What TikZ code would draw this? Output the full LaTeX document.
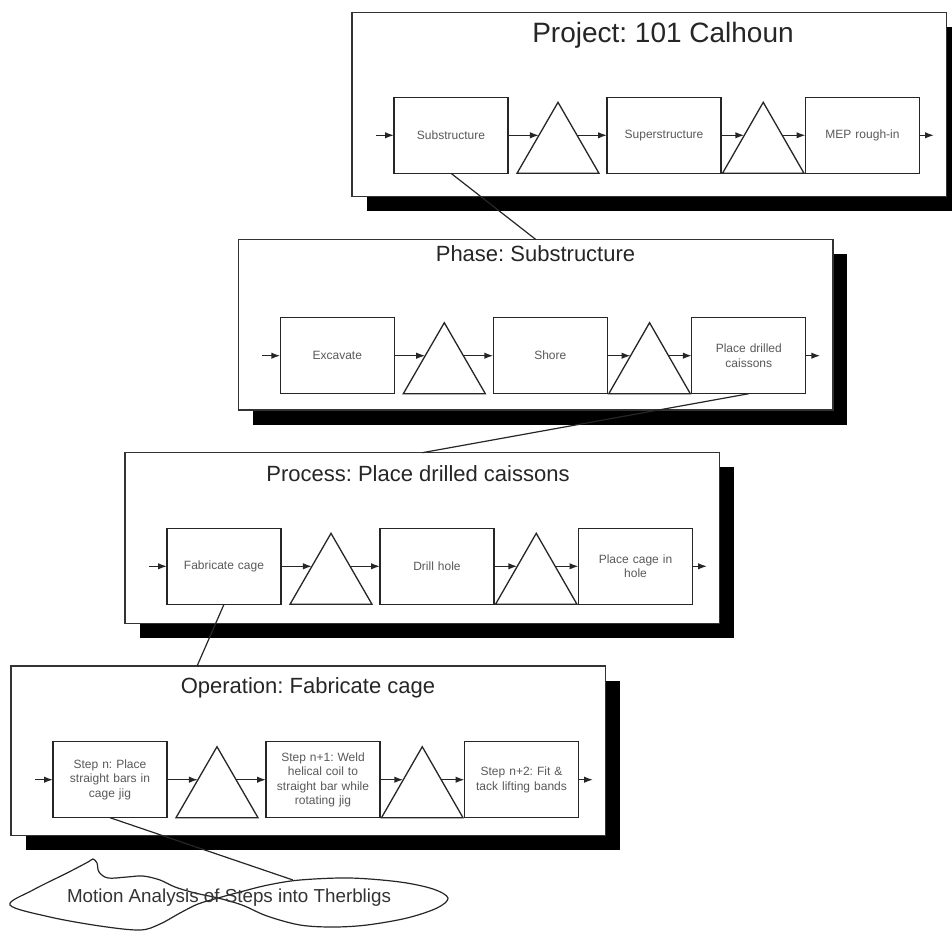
\documentclass[tikz,border=0pt]{standalone}
\usepackage{fontspec}
\setmainfont{Liberation Sans}
\usetikzlibrary{arrows.meta,calc}
\frenchspacing
\tikzset{
  panelbox/.style={draw=black!80, line width=1.4pt, fill=white, inner sep=0pt, outer sep=0pt},
  stepbox/.style={draw=black!85, line width=1.3pt, fill=white, minimum width=114pt, minimum height=76pt,
    inner sep=2pt, outer sep=0pt, align=center, text width=108pt,
    font=\fontsize{12}{14.5}\selectfont, text=black!65},
  tri/.style={draw=black!85, line width=1.3pt, line join=miter},
  arr/.style={line width=1.4pt, draw=black!85, -{Latex[length=9pt,width=6.5pt]}},
  link/.style={line width=1.2pt, draw=black!85},
  titletext/.style={font=\fontsize{22}{26}\selectfont, text=black!85, anchor=base},
  bigtitle/.style={font=\fontsize{28}{32}\selectfont, text=black!85, anchor=base},
  cloudtext/.style={font=\fontsize{18.8}{22}\selectfont, text=black!80, anchor=base},
}
% #1 prefix, #2 left, #3 top, #4 height, #5 box offset, #6-#8 box texts
\newcommand\drawpanel[8]{%
\begin{scope}[shift={(#2,#3)}]
\fill[black] (14.5,14.5) rectangle (609,#4+14.5);
\node[panelbox, minimum width=594.5pt, minimum height=#4pt, anchor=north west] (#1) at (0,0) {};
\node[stepbox, anchor=north west] (#1b1) at (42,#5) {#6};
\node[stepbox, anchor=north west] (#1b2) at (255,#5) {#7};
\node[stepbox, anchor=north west] (#1b3) at (453.5,#5) {#8};
\draw[tri] (165,#5+76) -- (206,#5+5) -- (247,#5+76) -- cycle;
\draw[tri] (370.5,#5+76) -- (411.25,#5+5) -- (452,#5+76) -- cycle;
\coordinate (#1in) at (24,#5+38);
\coordinate (#1t1l) at (186.9,#5+38);
\coordinate (#1t1r) at (225.1,#5+38);
\coordinate (#1t2l) at (392.3,#5+38);
\coordinate (#1t2r) at (430.2,#5+38);
\coordinate (#1out) at (582,#5+38);
\draw[arr] (#1in) -- (#1b1.west);
\draw[arr] (#1b1.east) -- (#1t1l);
\draw[arr] (#1t1r) -- (#1b2.west);
\draw[arr] (#1b2.east) -- (#1t2l);
\draw[arr] (#1t2r) -- (#1b3.west);
\draw[arr] (#1b3.east) -- (#1out);
\end{scope}}

\begin{document}
\begin{tikzpicture}[x=1pt,y=-1pt]
\useasboundingbox (0,0) rectangle (952,931);

\drawpanel{P}{352}{12.7}{184}{84.6}{Substructure}{Superstructure}{MEP rough-in}
\drawpanel{H}{238.3}{239.3}{170.7}{78.4}{Excavate}{Shore}{Place drilled\\caissons}
\drawpanel{C}{125}{452.7}{170.6}{75.6}{Fabricate cage}{Drill hole}{Place cage in\\hole}
\drawpanel{O}{11}{666}{169.5}{75.7}{Step n: Place\\straight bars in\\cage jig}{Step n+1: Weld\\helical coil to\\straight bar while\\rotating jig}{Step n+2: Fit \&\\tack lifting bands}

\node[bigtitle] (Ptitle) at (663,42.7) {Project: 101 Calhoun};
\node[titletext] (Htitle) at (535.5,261.5) {Phase: Substructure};
\node[titletext] (Ctitle) at (418,481.5) {Process: Place drilled caissons};
\node[titletext] (Otitle) at (308,693.5) {Operation: Fabricate cage};

% cloud
\draw[link] plot[smooth cycle, tension=0.55] coordinates {
 (10,905) (33,890) (67,873) (88,862) (93,859) (97,863) (99,872) (108,878)
 (127,877) (143,876) (160,880) (175,887) (195,893) (218,898) (242,905)
 (267,916) (300,925) (333,927) (367,925) (407,918) (437,908) (448,898)
 (433,889) (400,882) (350,878) (300,880) (268,885) (240,892) (218,898)
 (198,904) (180,913) (160,924) (140,930) (100,926) (50,917)};
\node[cloudtext] (cloud) at (229,902) {Motion Analysis of Steps into Therbligs};

% links between levels
\coordinate (Otop) at ($(O.north west)!0.313!(O.north east)$);
\coordinate (cloudtop) at (293,880);
\draw[link] (Pb1.south) -- (H.north);
\draw[link] (Hb3.south) -- (C.north);
\draw[link] (Cb1.south) -- (Otop);
\draw[link] (Ob1.south) -- (cloudtop);
\end{tikzpicture}
\end{document}
